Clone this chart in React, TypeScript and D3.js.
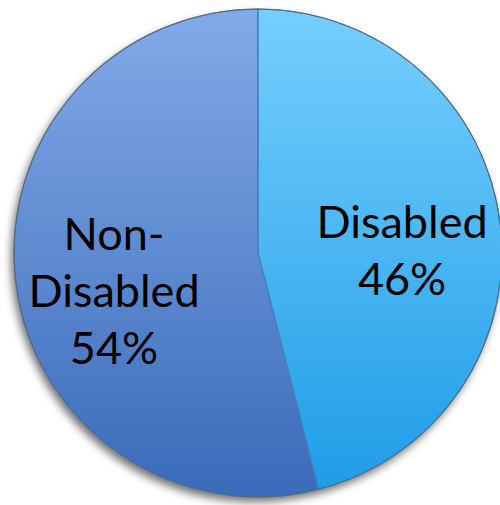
import * as d3 from 'd3';
import { useMemo } from 'react';

// Data
const categories = ['Disabled', 'Non-Disabled'];
const shares = [46, 54];
const labelLines = [['Disabled', '46%'], ['Non-', 'Disabled', '54%']];

const WIDTH = 500;
const HEIGHT = 505;
const CX = 258;
const CY = 253;
const RADIUS = 244;
const LINE_HEIGHT = 57;
// first-baseline offset from the centroid, per slice
const LABEL_DY = [3, -21];

const GRADIENTS = [
  ['#76cffd', '#1e9ce6'],
  ['#83aae7', '#3a6bb9'],
];

export default function App() {
  const arcs = useMemo(() => {
    return d3.pie<number>().sort(null).value((d) => d)(shares);
  }, []);

  const arc = d3.arc<d3.PieArcDatum<number>>().innerRadius(0).outerRadius(RADIUS);
  const labelArc = d3.arc<d3.PieArcDatum<number>>().innerRadius(RADIUS * 0.595).outerRadius(RADIUS * 0.595);

  return (
    <svg width={WIDTH} height={HEIGHT} style={{ position: 'absolute', left: 0, top: 0 }}>
      <defs>
        {GRADIENTS.map((g, i) => (
          <linearGradient key={i} id={`grad${i}`} gradientUnits="userSpaceOnUse" x1={0} y1={-RADIUS} x2={0} y2={RADIUS}>
            <stop offset="0%" stopColor={g[0]} />
            <stop offset="100%" stopColor={g[1]} />
          </linearGradient>
        ))}
        <filter id="shadow" x="-10%" y="-10%" width="120%" height="120%">
          <feDropShadow dx={-3} dy={5} stdDeviation={4} floodColor="#000" floodOpacity={0.55} />
        </filter>
      </defs>
      <g transform={`translate(${CX},${CY})`}>
        <circle r={RADIUS} fill="#fff" filter="url(#shadow)" />
        {arcs.map((a, i) => (
          <path key={categories[i]} d={arc(a) ?? ''} fill={`url(#grad${i})`} />
        ))}
        {arcs.map((a, i) => (
          <path key={`s${i}`} d={arc(a) ?? ''} fill="none" stroke="#3f80bd" strokeWidth={1.2} strokeOpacity={0.9} />
        ))}
        <circle r={RADIUS} fill="none" stroke="#5a6470" strokeWidth={1} />
        {arcs.map((a, i) => {
          const [x, y] = labelArc.centroid(a);
          return (
            <text
              key={`t${i}`}
              x={x}
              y={y + LABEL_DY[i]}
              textAnchor="middle"
              fontFamily="Lato, sans-serif"
              fontSize={45}
              fill="#000"
            >
              {labelLines[i].map((line, j) => (
                <tspan key={j} x={x} dy={j === 0 ? 0 : LINE_HEIGHT}>
                  {line}
                </tspan>
              ))}
            </text>
          );
        })}
      </g>
    </svg>
  );
}
